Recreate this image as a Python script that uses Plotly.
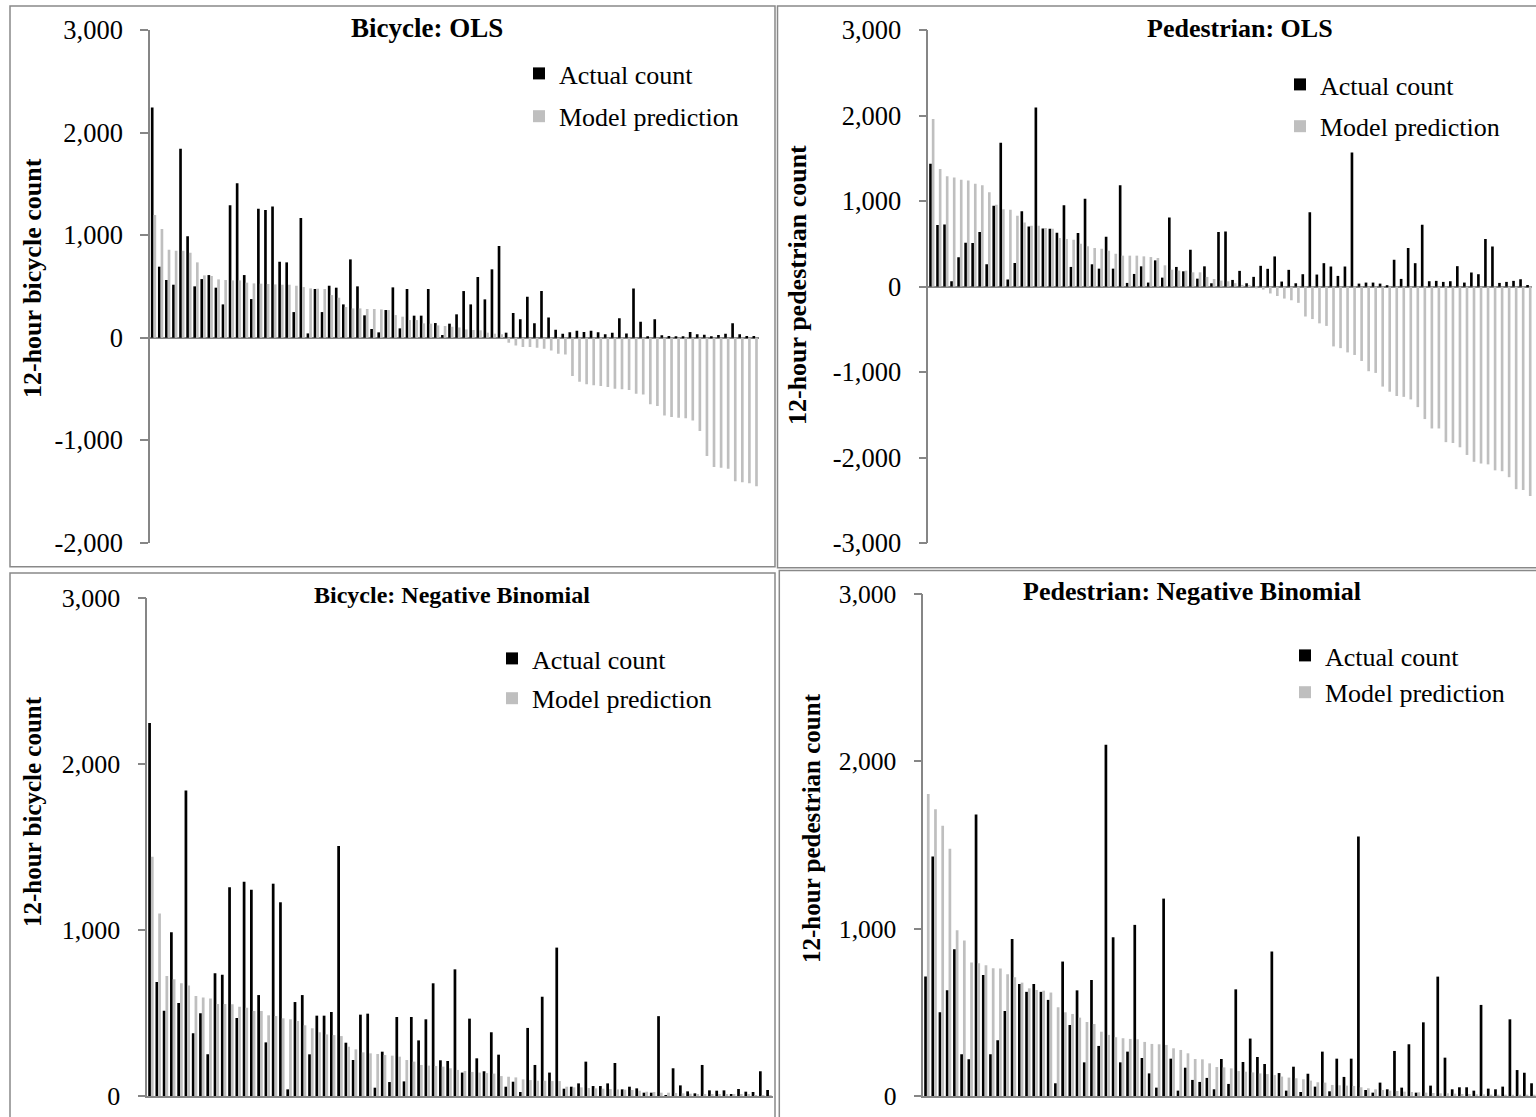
import plotly.graph_objects as go

W, H = 1536, 1117

# ---------------- data ----------------
sites = list(range(86))

bike_ols_actual = [2247, 693, 563, 517, 1844, 989, 501, 572, 611, 488, 325, 1291, 1506, 611, 377, 1259, 1246, 1281, 741, 735,
                   250, 1167, 42, 475, 250, 507, 488, 325, 764, 501, 218, 85, 52, 270, 491, 91, 475, 215, 215, 475,
                   143, 26, 137, 228, 455, 325, 592, 374, 667, 894, 49, 241, 179, 400, 140, 455, 198, 78, 39, 52,
                   68, 55, 68, 52, 33, 49, 189, 42, 481, 156, 10, 179, 23, 16, 10, 5, 55, 33, 29, 10,
                   26, 39, 140, 33, 16, 16]
bike_ols_pred = [1197, 1060, 859, 849, 849, 829, 735, 608, 602, 569, 563, 559, 559, 537, 530, 527, 524, 520, 517, 517,
                 507, 494, 481, 478, 475, 416, 390, 299, 286, 286, 280, 280, 276, 270, 221, 205, 172, 172, 140, 137,
                 120, 114, 107, 100, 81, 75, 72, 49, 39, 33, -49, -75, -91, -91, -98, -107, -124, -156, -163, -374,
                 -429, -455, -465, -472, -481, -498, -504, -511, -546, -553, -650, -667, -758, -774, -780, -787, -807, -911, -1154, -1262,
                 -1268, -1278, -1400, -1410, -1420, -1450]

ped_ols_actual = [1436, 720, 727, 62, 342, 514, 510, 638, 261, 945, 1684, 82, 276, 883, 704, 2097, 681, 677, 630, 953,
                  230, 626, 1027, 261, 210, 584, 210, 1186, 43, 148, 237, 47, 307, 105, 809, 230, 179, 432, 93, 237,
                  39, 638, 646, 78, 184, 39, 114, 243, 208, 353, 59, 196, 39, 145, 870, 141, 274, 235, 125, 235,
                  1568, 35, 47, 47, 35, 16, 314, 90, 451, 274, 725, 63, 67, 55, 63, 239, 47, 165, 145, 557,
                  470, 43, 55, 67, 86, 20]
ped_ols_pred = [1961, 1377, 1292, 1276, 1249, 1241, 1202, 1187, 1105, 957, 906, 899, 829, 751, 712, 712, 685, 677, 568, 556,
                549, 502, 471, 451, 443, 420, 385, 362, 362, 362, 354, 346, 335, 249, 198, 187, 187, 167, 167, 113,
                89, 70, 62, 40, 20, 8, -20, -35, -80, -110, -140, -160, -190, -350, -380, -430, -460, -700, -720, -770,
                -800, -870, -990, -1010, -1170, -1230, -1280, -1290, -1320, -1410, -1550, -1660, -1660, -1820, -1830, -1880, -1970, -2050, -2070, -2080,
                -2150, -2160, -2230, -2370, -2380, -2450]

bike_nb_actual = [2247, 687, 514, 986, 560, 1841, 378, 498, 251, 739, 731, 1257, 470, 1291, 1243, 608, 323, 1279, 1167, 40,
                  566, 608, 251, 484, 484, 506, 1506, 321, 217, 490, 496, 50, 267, 84, 476, 88, 476, 335, 462, 679,
                  215, 211, 763, 141, 466, 227, 149, 384, 249, 56, 86, 24, 410, 187, 598, 141, 894, 44, 56, 76,
                  207, 60, 60, 76, 199, 40, 56, 46, 20, 20, 481, 4, 167, 64, 28, 16, 187, 34, 32, 34,
                  10, 42, 26, 24, 149, 36]
bike_nb_pred = [1442, 1100, 723, 703, 679, 665, 602, 594, 588, 554, 554, 552, 538, 532, 512, 512, 486, 482, 468, 462,
                452, 426, 408, 384, 371, 367, 361, 297, 281, 263, 257, 253, 247, 243, 237, 217, 207, 187, 183, 181,
                177, 167, 157, 151, 145, 141, 138, 135, 120, 116, 112, 100, 96, 92, 92, 90, 90, 56, 52, 52,
                48, 46, 44, 42, 40, 38, 36, 32, 26, 24, 20, 20, 18, 16, 14, 12, 12, 11, 10, 10,
                9, 8, 7, 6, 5, 5]

ped_nb_actual = [713, 1430, 500, 631, 876, 249, 219, 1681, 723, 249, 333, 508, 938, 669, 622, 669, 622, 574, 76, 803,
                 424, 631, 201, 693, 299, 2098, 948, 201, 265, 1022, 227, 135, 50, 1179, 223, 32, 169, 96, 84, 108,
                 40, 221, 72, 637, 203, 343, 233, 191, 863, 137, 32, 175, 24, 133, 56, 265, 28, 223, 114, 223,
                 1550, 36, 20, 80, 40, 269, 50, 309, 20, 440, 62, 713, 229, 40, 52, 52, 32, 544, 44, 40,
                 56, 458, 155, 139, 76, 60]
ped_nb_pred = [1803, 1713, 1614, 1476, 990, 928, 797, 793, 781, 763, 761, 727, 709, 677, 643, 633, 629, 618, 530, 500,
               490, 468, 442, 430, 384, 365, 351, 345, 341, 339, 323, 311, 309, 305, 285, 275, 255, 221, 219, 195,
               173, 171, 165, 149, 145, 141, 135, 131, 125, 116, 110, 106, 100, 92, 82, 80, 66, 64, 62, 60,
               52, 46, 40, 36, 32, 30, 26, 24, 22, 20, 18, 16, 16, 14, 12, 12, 10, 10, 8, 8,
               8, 6, 6, 6, 4, 4]

ticks_ols_bike = [3000, 2000, 1000, 0, -1000, -2000]
ticks_ols_bike_text = ["3,000", "2,000", "1,000", "0", "-1,000", "-2,000"]
ticks_ols_ped = [3000, 2000, 1000, 0, -1000, -2000, -3000]
ticks_ols_ped_text = ["3,000", "2,000", "1,000", "0", "-1,000", "-2,000", "-3,000"]
ticks_nb = [3000, 2000, 1000, 0]
ticks_nb_text = ["3,000", "2,000", "1,000", "0"]

panel_titles = ["Bicycle: OLS", "Pedestrian: OLS", "Bicycle: Negative Binomial", "Pedestrian: Negative Binomial"]
y_titles = ["12-hour bicycle count", "12-hour pedestrian count", "12-hour bicycle count", "12-hour pedestrian count"]
series_names = ["Actual count", "Model prediction"]

# ---------------- styling ----------------
FONT = "Liberation Serif"
BLACK = "#000000"
GRAY = "#BFBFBF"
AXIS = "#868686"


def px_x(x):
    return x / W


def px_y(y):
    return 1 - y / H


panels = [
    dict(actual=bike_ols_actual, pred=bike_ols_pred, xdom=(150, 758.7), ydom=(542.7, 30.2),
         yrange=[-2000, 3000], tv=ticks_ols_bike, tt=ticks_ols_bike_text, xr=[-0.5, 85.5], bottom_axis=False,
         tick_fs=26.5, legend=(519, 50, 6), title=(427, 28, 27), ytitle=(32, 278, 26)),
    dict(actual=ped_ols_actual, pred=ped_ols_pred, xdom=(928.3, 1532.4), ydom=(543, 30.2),
         yrange=[-3000, 3000], tv=ticks_ols_ped, tt=ticks_ols_ped_text, xr=[-0.5, 85.5], bottom_axis=False,
         tick_fs=26.5, legend=(1280, 61, 5), title=(1240, 28, 26), ytitle=(797, 285, 26)),
    dict(actual=bike_nb_actual, pred=bike_nb_pred, xdom=(147.3, 772.6), ydom=(1096, 598),
         yrange=[0, 3000], tv=ticks_nb, tt=ticks_nb_text, xr=[-0.5, 85.5], bottom_axis=True,
         tick_fs=26, legend=(492, 635, 3), title=(452, 595, 24), ytitle=(32, 812, 25)),
    dict(actual=ped_nb_actual, pred=ped_nb_pred, xdom=(923.3, 1536), ydom=(1096, 593.7),
         yrange=[0, 3000], tv=ticks_nb, tt=ticks_nb_text, xr=[-0.5, 84.43], bottom_axis=True,
         tick_fs=25.6, legend=(1285, 632, 0), title=(1192, 591, 26), ytitle=(811, 828, 25)),
]

fig = go.Figure()
layout = dict(
    width=W, height=H,
    margin=dict(l=0, r=0, t=0, b=0, autoexpand=False),
    paper_bgcolor="white", plot_bgcolor="white",
    barmode="group", bargap=0.25, bargroupgap=0.0,
    font=dict(family=FONT, size=26, color="black"),
    shapes=[], annotations=[],
)

for i, p in enumerate(panels, start=1):
    sfx = "" if i == 1 else str(i)
    xa, ya = "x" + sfx, "y" + sfx
    leg = "legend" + sfx
    for name, vals, col in [(series_names[0], p["actual"], BLACK), (series_names[1], p["pred"], GRAY)]:
        fig.add_trace(go.Bar(x=sites, y=vals, name=name, marker=dict(color=col, line=dict(width=0)),
                             xaxis=xa, yaxis=ya, legend=leg, legendgroup=f"{name}{i}",
                             offsetgroup=name))
    layout["xaxis" + sfx] = dict(
        domain=[px_x(p["xdom"][0]), px_x(p["xdom"][1])], range=p["xr"], anchor=ya,
        showticklabels=False, ticks="", showgrid=False, zeroline=False, automargin=False,
        showline=p["bottom_axis"], linecolor=AXIS, linewidth=1.5, fixedrange=True,
    )
    layout["yaxis" + sfx] = dict(
        domain=[px_y(p["ydom"][0]), px_y(p["ydom"][1])], range=p["yrange"], anchor=xa,
        tickmode="array", tickvals=p["tv"], ticktext=p["tt"], ticks="outside", ticklen=8,
        tickcolor=AXIS, tickwidth=1.5, showline=True, linecolor=AXIS, linewidth=1.5, automargin=False,
        showgrid=False, zeroline=not p["bottom_axis"], zerolinecolor=AXIS, zerolinewidth=1.5,
        tickfont=dict(family=FONT, size=p["tick_fs"], color="black"), ticklabelstandoff=12, fixedrange=True,
    )
    lx, ly, gap = p["legend"]
    layout[leg] = dict(
        x=px_x(lx), y=px_y(ly), xanchor="left", yanchor="top", orientation="v",
        bgcolor="rgba(0,0,0,0)", borderwidth=0, traceorder="grouped", tracegroupgap=gap,
        font=dict(family=FONT, size=26, color="black"), itemclick=False, itemdoubleclick=False,
    )
    tx, ty, tfs = p["title"]
    layout["annotations"].append(dict(
        text="<b>" + panel_titles[i - 1] + "</b>", x=px_x(tx), y=px_y(ty), xref="paper", yref="paper",
        xanchor="center", yanchor="middle", showarrow=False, font=dict(family=FONT, size=tfs, color="black"),
    ))
    yx, yy, yfs = p["ytitle"]
    layout["annotations"].append(dict(
        text="<b>" + y_titles[i - 1] + "</b>", x=px_x(yx), y=px_y(yy), xref="paper", yref="paper",
        xanchor="center", yanchor="middle", textangle=-90, showarrow=False,
        font=dict(family=FONT, size=yfs, color="black"),
    ))

# panel frames
for (x0, y0, x1, y1) in [(10, 6, 775, 566.7), (777.5, 6, 1540, 567.7), (10, 573, 775, 1125), (779.3, 570.5, 1540, 1125)]:
    layout["shapes"].append(dict(type="rect", xref="paper", yref="paper",
                                 x0=px_x(x0), x1=px_x(x1), y0=px_y(y1), y1=px_y(y0),
                                 line=dict(color="#898989", width=1.5), fillcolor="rgba(0,0,0,0)", layer="below"))

fig.update_layout(**layout)
fig.write_html("out.html", config={"displayModeBar": False})
